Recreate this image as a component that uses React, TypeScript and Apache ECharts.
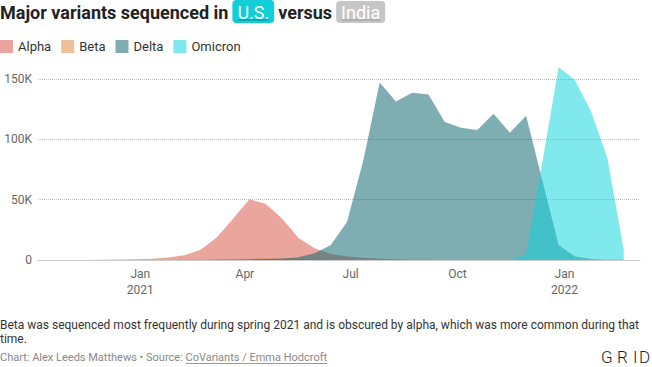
import React, { useEffect, useRef } from 'react';
import * as echarts from 'echarts';

// Biweekly sample dates
const dates = [
  '2020-10-05', '2020-10-19', '2020-11-02', '2020-11-16', '2020-11-30', '2020-12-14', '2020-12-28',
  '2021-01-11', '2021-01-25', '2021-02-08', '2021-02-22', '2021-03-08', '2021-03-22', '2021-04-05',
  '2021-04-19', '2021-05-03', '2021-05-17', '2021-05-31', '2021-06-14', '2021-06-28', '2021-07-12',
  '2021-07-26', '2021-08-09', '2021-08-23', '2021-09-06', '2021-09-20', '2021-10-04', '2021-10-18',
  '2021-11-01', '2021-11-15', '2021-11-29', '2021-12-13', '2021-12-27', '2022-01-10', '2022-01-24',
  '2022-02-07', '2022-02-21',
];

// Sequences, in thousands
const alpha = [
  0, 0, 0.05, 0.1, 0.2, 0.4, 0.6, 1.0, 2.0, 4.0, 8.5, 18.8, 34.5, 50.3, 46.4, 34.5, 18.5, 9.7, 5.0,
  3.0, 1.8, 1.0, 0.6, 0.3, 0.2, 0.1, 0.1, 0.05, 0, 0, 0, 0, 0, 0, 0, 0, 0,
];
const beta = [
  0, 0, 0, 0, 0, 0, 0, 0, 0.1, 0.2, 0.3, 0.5, 0.8, 1.1, 1.3, 1.2, 0.9, 0.6, 0.3, 0.15, 0.1, 0, 0,
  0, 0, 0, 0, 0, 0, 0, 0, 0, 0, 0, 0, 0, 0,
];
const delta = [
  0, 0, 0, 0, 0, 0, 0, 0, 0, 0, 0.1, 0.2, 0.3, 0.5, 0.8, 1.3, 2.3, 5.5, 12.4, 31.8, 82.9, 147.2,
  131.5, 138.7, 137.3, 114.4, 109.7, 107.7, 121.3, 105.5, 119.6, 66.0, 12.4, 2.8, 0.8, 0.3, 0.2,
];
const omicron = [
  0, 0, 0, 0, 0, 0, 0, 0, 0, 0, 0, 0, 0, 0, 0, 0, 0, 0, 0, 0, 0, 0, 0, 0, 0, 0, 0, 0, 0, 0.3, 5.0,
  81.0, 160.0, 149.2, 122.9, 84.3, 8.3,
];

const xRange = ['2020-10-05', '2022-03-07'];
const xTickDates = ['2021-01-01', '2021-04-01', '2021-07-01', '2021-10-01', '2022-01-01'];
const monthNames = ['Jan', 'Feb', 'Mar', 'Apr', 'May', 'Jun', 'Jul', 'Aug', 'Sep', 'Oct', 'Nov', 'Dec'];
const yMax = 160000;
const yStep = 50000;

const legendNames = ['Alpha', 'Beta', 'Delta', 'Omicron'];

const FONT = 'Roboto, "Noto Sans", sans-serif';

function ts(s: string): number {
  const [y, m, d] = s.split('-').map(Number);
  return new Date(y, m - 1, d).getTime();
}

function measure(text: string, font: string): number {
  const c = document.createElement('canvas').getContext('2d');
  if (!c) return text.length * 7;
  c.font = font;
  return c.measureText(text).width;
}

export default function App() {
  const ref = useRef<HTMLDivElement>(null);

  useEffect(() => {
    if (!ref.current) return;
    const chart = echarts.init(ref.current, null, { renderer: 'svg' });

    const mk = (name: string, vals: number[], color: string, fill: string) => ({
      name,
      type: 'line',
      data: dates.map((d, i) => [ts(d), vals[i] * 1000]),
      symbol: 'none',
      showSymbol: false,
      color,
      itemStyle: { color },
      lineStyle: { width: 0 },
      areaStyle: { color: fill, opacity: 1 },
      emphasis: { disabled: true },
      silent: true,
    });

    // Title pieces
    const titleFont = `bold 18px ${FONT}`;
    const boxFont = `18px ${FONT}`;
    const t1 = 'Major variants sequenced in';
    const w1 = measure(t1, titleFont);
    const usW = measure('U.S.', boxFont);
    const vsW = measure('versus', titleFont);
    const inW = measure('India', boxFont);
    const usX = w1 + 4;
    const usBoxW = usW + 10;
    const vsX = usX + usBoxW + 4;
    const inX = vsX + vsW + 4;
    const inBoxW = inW + 10;

    const srcFont = `11px ${FONT}`;
    const src1 = 'Chart: Alex Leeds Matthews • Source: ';
    const src2 = 'CoVariants / Emma Hodcroft';
    const s1W = measure(src1, srcFont);
    const s2W = measure(src2, srcFont);

    const option: any = {
      animation: false,
      textStyle: { fontFamily: FONT },
      grid: { left: 38, right: 12, top: 67, bottom: 107, containLabel: false },
      legend: {
        data: legendNames,
        left: 0,
        top: 40,
        icon: 'rect',
        itemWidth: 13,
        itemHeight: 13,
        itemGap: 10,
        padding: 0,
        selectedMode: false,
        textStyle: { fontSize: 13, color: '#333', fontFamily: FONT },
      },
      xAxis: {
        type: 'value',
        min: ts(xRange[0]),
        max: ts(xRange[1]),
        axisLine: { show: true, lineStyle: { color: '#ccc', width: 1 } },
        axisTick: { show: false },
        splitLine: { show: false },
        axisLabel: {
          customValues: xTickDates.map(ts),
          formatter: (v: number) => {
            const d = new Date(v);
            const m = monthNames[d.getMonth()];
            return d.getMonth() === 0 ? `${m}\n${d.getFullYear()}` : m;
          },
          color: '#666',
          fontSize: 12,
          lineHeight: 16,
          margin: 6,
          fontFamily: FONT,
          hideOverlap: false,
          verticalAlign: 'top',
        },
      },
      yAxis: {
        type: 'value',
        min: 0,
        max: yMax,
        interval: yStep,
        axisLine: { show: false },
        axisTick: { show: false },
        splitLine: {
          show: true,
          showMinLine: false,
          showMaxLine: false,
          lineStyle: { color: '#bbb', type: 'dotted', width: 1 },
        },
        axisLabel: {
          showMaxLabel: false,
          formatter: (v: number) => (v === 0 ? '0' : `${v / 1000}K`),
          color: '#666',
          fontSize: 12,
          margin: 6,
          fontFamily: FONT,
        },
      },
      series: [
        mk('Beta', beta, '#f0c09b', 'rgba(226,136,61,0.52)'),
        mk('Alpha', alpha, '#eaa69d', 'rgba(215,84,67,0.52)'),
        mk('Delta', delta, '#7fadb1', 'rgba(10,99,107,0.52)'),
        mk('Omicron', omicron, '#7fe8ec', 'rgba(10,212,220,0.52)'),
      ],
      graphic: [
        {
          type: 'text',
          x: 0,
          y: 12,
          style: { text: t1, font: titleFont, fill: '#222', verticalAlign: 'middle' },
        },
        {
          type: 'rect',
          shape: { x: usX, y: 0, width: usBoxW, height: 23, r: 4 },
          style: { fill: '#12ced6' },
        },
        {
          type: 'text',
          x: usX + 5,
          y: 12,
          style: { text: 'U.S.', font: boxFont, fill: '#fff', verticalAlign: 'middle' },
        },
        {
          type: 'line',
          shape: { x1: usX + 5, y1: 20, x2: usX + 5 + usW, y2: 20 },
          style: { stroke: 'rgba(0,0,0,0.35)', lineWidth: 1 },
        },
        {
          type: 'text',
          x: vsX,
          y: 12,
          style: { text: 'versus', font: titleFont, fill: '#222', verticalAlign: 'middle' },
        },
        {
          type: 'rect',
          shape: { x: inX, y: 1, width: inBoxW, height: 22, r: 4 },
          style: { fill: '#c6c6c6' },
        },
        {
          type: 'text',
          x: inX + 5,
          y: 12,
          style: { text: 'India', font: boxFont, fill: '#fff', verticalAlign: 'middle' },
        },
        {
          type: 'line',
          shape: { x1: inX + 5, y1: 20, x2: inX + 5 + inW, y2: 20 },
          style: { stroke: '#999', lineWidth: 1 },
        },
        {
          type: 'text',
          x: 0,
          y: 325,
          style: {
            text: 'Beta was sequenced most frequently during spring 2021 and is obscured by alpha, which was more common during that',
            font: `12px ${FONT}`,
            fill: '#333',
            verticalAlign: 'middle',
          },
        },
        {
          type: 'text',
          x: 0,
          y: 339,
          style: { text: 'time.', font: `12px ${FONT}`, fill: '#333', verticalAlign: 'middle' },
        },
        {
          type: 'text',
          x: 0,
          y: 357,
          style: { text: src1, font: srcFont, fill: '#888', verticalAlign: 'middle' },
        },
        {
          type: 'text',
          x: s1W,
          y: 357,
          style: { text: src2, font: srcFont, fill: '#888', verticalAlign: 'middle' },
        },
        {
          type: 'line',
          shape: { x1: s1W, y1: 363.5, x2: s1W + s2W, y2: 363.5 },
          style: { stroke: '#999', lineWidth: 1 },
        },
        ...['G', 'R', 'I', 'D'].map((ch, i) => ({
          type: 'text',
          x: [601, 617, 633, 639][i],
          y: 357,
          style: { text: ch, font: `300 17px ${FONT}`, fill: '#222', verticalAlign: 'middle' },
        })),
      ],
    };

    chart.setOption(option);
    return () => chart.dispose();
  }, []);

  return (
    <div
      ref={ref}
      style={{ position: 'fixed', left: 0, top: 0, width: 652, height: 367, background: '#fff' }}
    />
  );
}
